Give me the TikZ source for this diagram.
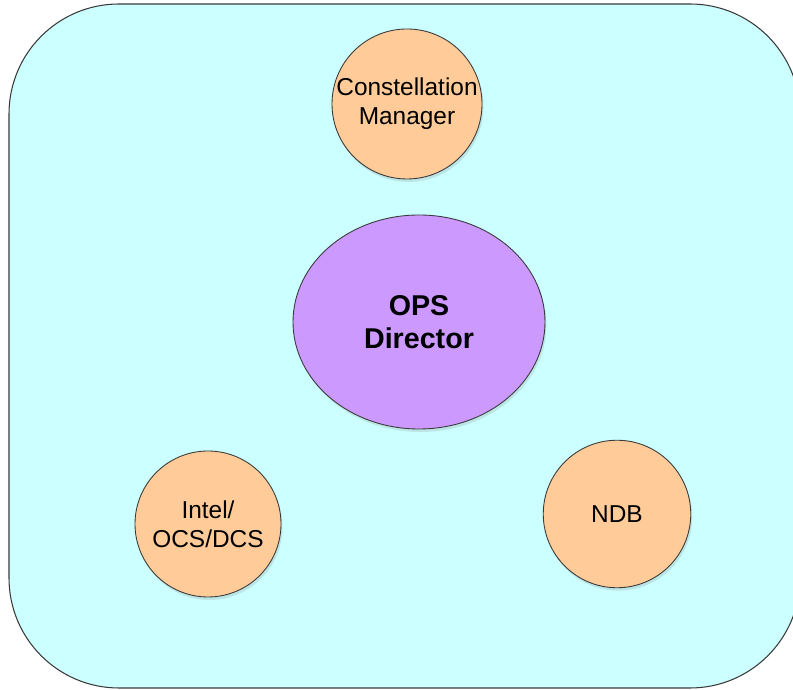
\documentclass[tikz,border=0pt]{standalone}
\usepackage{fontspec}
\setmainfont{Liberation Sans}
\definecolor{PanelCyan}{HTML}{CCFFFF}
\definecolor{RoleOrange}{HTML}{FFCC99}
\definecolor{DirectorPurple}{HTML}{CC99FF}
\definecolor{EdgeGray}{HTML}{3A3A3A}
\usetikzlibrary{shapes.geometric, shadows}
\tikzset{
  % Box styles
  panelbox/.style={draw=EdgeGray, fill=PanelCyan, line width=0.6pt, rounded corners=2.2cm},
  rolenode/.style={circle, draw=EdgeGray, fill=RoleOrange, line width=0.5pt, inner sep=0pt, minimum size=2.95cm, font=\fontsize{13.9}{16.4}\selectfont, align=center, drop shadow={shadow xshift=0.03cm, shadow yshift=-0.06cm, opacity=0.2}},
  directornode/.style={ellipse, draw=EdgeGray, fill=DirectorPurple, line width=0.5pt, inner sep=0pt, minimum width=5.04cm, minimum height=4.28cm, font=\fontsize{16.3}{18.7}\selectfont\bfseries, align=center, drop shadow={shadow xshift=0.03cm, shadow yshift=-0.06cm, opacity=0.2}}
}

\begin{document}
\begin{tikzpicture}
  \useasboundingbox (0,0) rectangle (15.86,13.78);
  \clip (0,0) rectangle (15.86,13.78);

  % Background panel
  \draw[panelbox] (0.18,0.02) rectangle (16.0,13.70);

  % Director
  \node[directornode] (director) at (8.38,7.34) {OPS\\Director};

  % Roles around the director
  \node[rolenode, minimum size=3cm] (constellation) at (8.14,11.70) {Constellation\\Manager};
  \node[rolenode, minimum size=2.92cm] (intel) at (4.16,3.30) {Intel/\\OCS/DCS};
  \node[rolenode] (ndb) at (12.34,3.50) {NDB};
\end{tikzpicture}
\end{document}
